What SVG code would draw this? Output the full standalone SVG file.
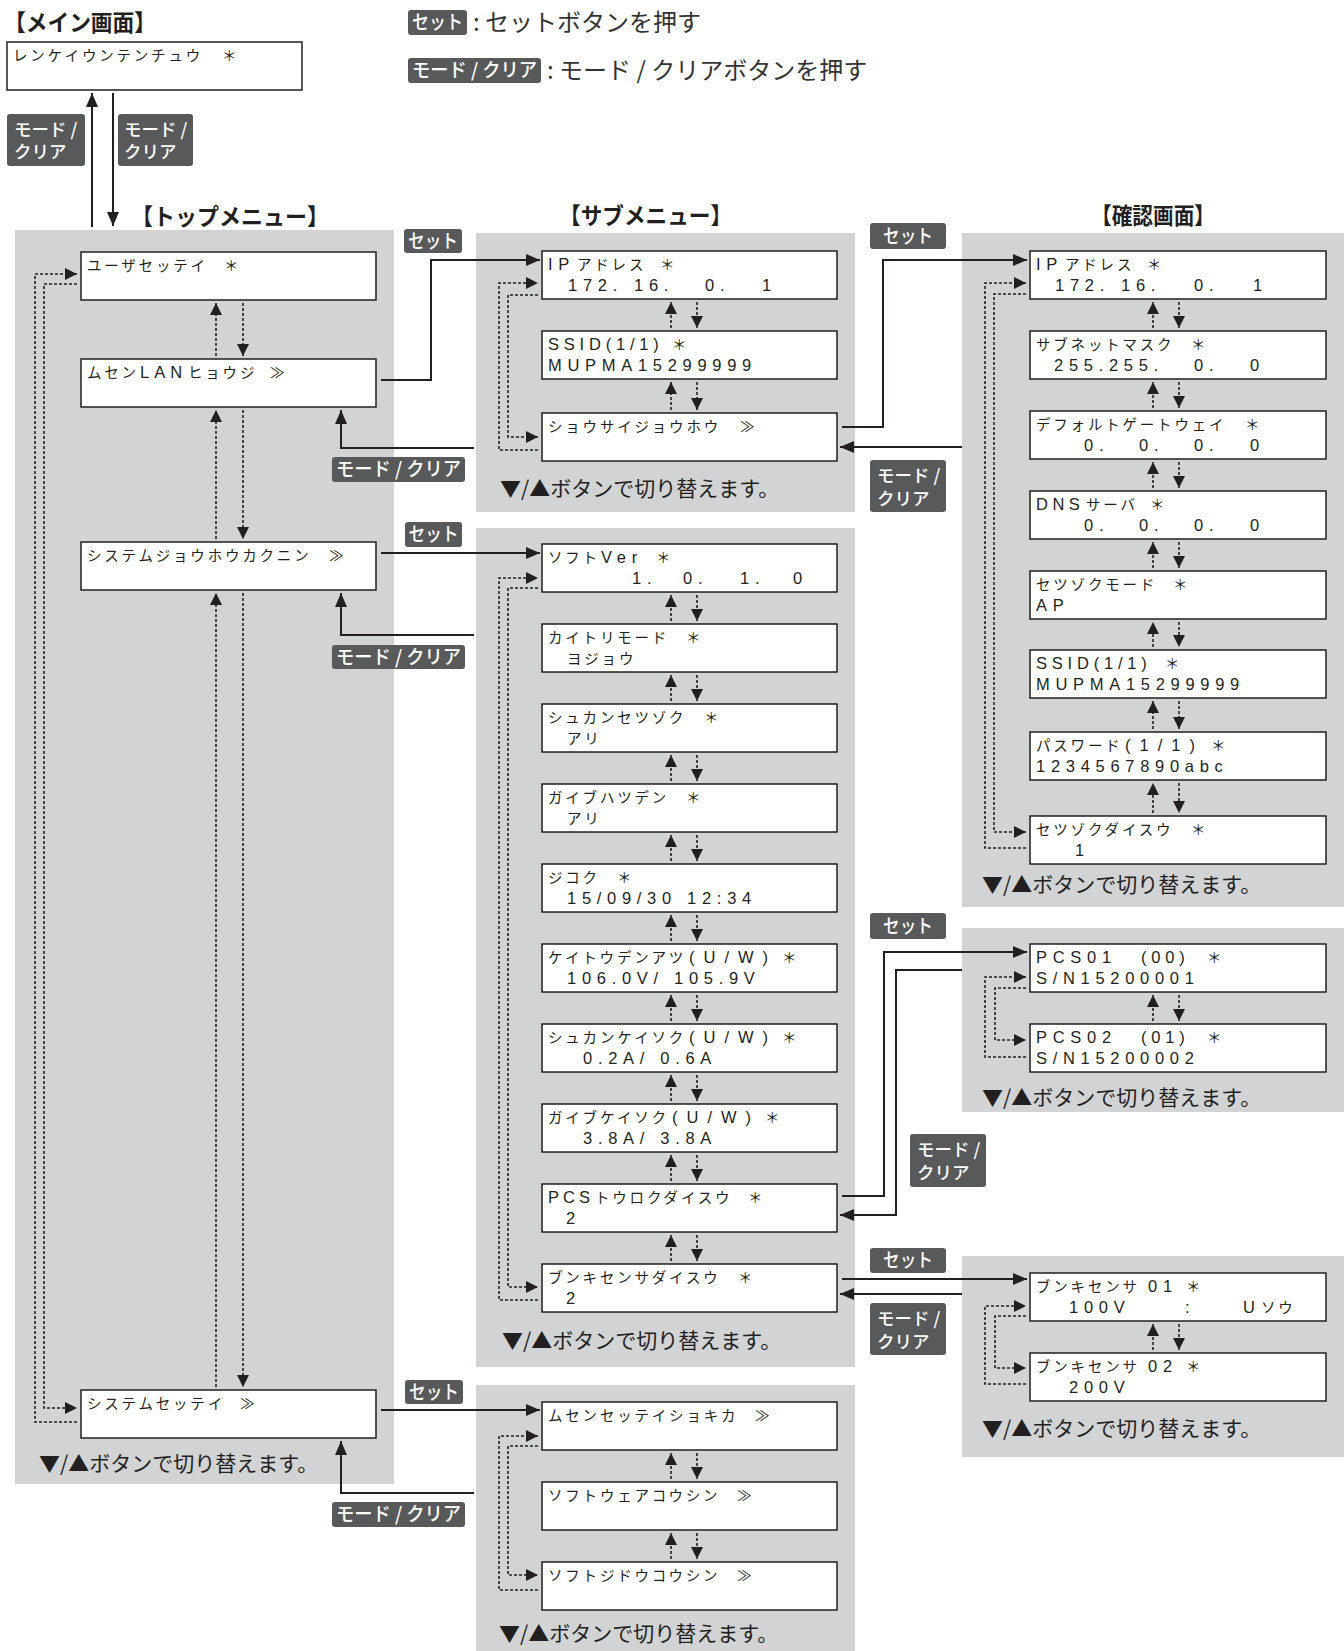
<svg xmlns="http://www.w3.org/2000/svg" width="1344" height="1651" viewBox="0 0 1344 1651">
<defs>
<style>
.pn{fill:#d1d3d4}
.bx{fill:#fff;stroke:#231f20;stroke-width:1.5}
.k{font-family:"Noto Sans CJK JP",sans-serif;font-size:14.5px;letter-spacing:2.8px;fill:#231f20}
.a{font-family:"Liberation Sans","Noto Sans CJK JP",sans-serif;font-size:16.5px;letter-spacing:5.7px;fill:#231f20}
.aw{font-family:"Liberation Sans","Noto Sans CJK JP",sans-serif;font-size:16.5px;letter-spacing:9px;fill:#231f20}
.ttl{font-family:"Noto Sans CJK JP",sans-serif;font-size:23px;font-weight:700;fill:#231f20}
.ft{font-family:"Noto Sans CJK JP",sans-serif;font-size:21px;fill:#231f20}
.lg{font-family:"Noto Sans CJK JP",sans-serif;font-size:24px;fill:#333}
.lb{fill:#58595b}
.lt{font-family:"Noto Sans CJK JP",sans-serif;font-size:19px;font-weight:500;fill:#fff}
.l2{font-family:"Noto Sans CJK JP",sans-serif;font-size:17.5px;font-weight:500;fill:#fff}
.ln{fill:none;stroke:#231f20;stroke-width:2}
.dl{fill:none;stroke:#231f20;stroke-width:1.6;stroke-dasharray:3 2}
</style>
<marker id="ah" viewBox="0 0 14 12" refX="14" refY="6" markerWidth="14" markerHeight="12" markerUnits="userSpaceOnUse" orient="auto"><path d="M0,0L14,6L0,12z" fill="#231f20"/></marker>
<marker id="sa" viewBox="0 0 12 12" refX="12" refY="6" markerWidth="12" markerHeight="12" markerUnits="userSpaceOnUse" orient="auto"><path d="M0,0L12,6L0,12z" fill="#231f20"/></marker>
</defs>
<rect width="1344" height="1651" fill="#fff"/>

<g id="panels">
<rect class="pn" x="15" y="230" width="379" height="1254"/>
<rect class="pn" x="476" y="233" width="379" height="279"/>
<rect class="pn" x="476" y="528" width="379" height="839"/>
<rect class="pn" x="476" y="1385" width="379" height="266"/>
<rect class="pn" x="962" y="233" width="382" height="674"/>
<rect class="pn" x="962" y="928" width="382" height="184"/>
<rect class="pn" x="962" y="1256" width="382" height="201"/>
</g>

<g id="titles">
<text class="ttl" x="4" y="31" textLength="152" lengthAdjust="spacingAndGlyphs">【メイン画面】</text>
<text class="ttl" x="131" y="225" textLength="198" lengthAdjust="spacingAndGlyphs">【トップメニュー】</text>
<text class="ttl" x="559" y="224" textLength="173" lengthAdjust="spacingAndGlyphs">【サブメニュー】</text>
<text class="ttl" x="1091" y="224" textLength="124" lengthAdjust="spacingAndGlyphs">【確認画面】</text>
<text class="ft" x="39" y="1471">▼/▲ボタンで切り替えます。</text>
<text class="ft" x="500" y="496">▼/▲ボタンで切り替えます。</text>
<text class="ft" x="502" y="1348">▼/▲ボタンで切り替えます。</text>
<text class="ft" x="499" y="1641">▼/▲ボタンで切り替えます。</text>
<text class="ft" x="982" y="892">▼/▲ボタンで切り替えます。</text>
<text class="ft" x="982" y="1105">▼/▲ボタンで切り替えます。</text>
<text class="ft" x="982" y="1436">▼/▲ボタンで切り替えます。</text>
</g>

<g id="legend">
<rect class="lb" x="408" y="10" width="59" height="25" rx="3"/>
<text class="lt" x="437.5" y="29" text-anchor="middle" textLength="51" lengthAdjust="spacingAndGlyphs">セット</text>
<text class="lg" x="473" y="31">: セットボタンを押す</text>
<rect class="lb" x="408" y="58" width="133" height="25" rx="3"/>
<text class="lt" x="474.5" y="77" text-anchor="middle" textLength="125" lengthAdjust="spacingAndGlyphs">モード / クリア</text>
<text class="lg" x="547" y="79">: モード / クリアボタンを押す</text>
</g>

<g id="connectors">
<path class="ln" d="M92,227V93" marker-end="url(#ah)"/>
<path class="ln" d="M113,93V226" marker-end="url(#ah)"/>
<path class="ln" d="M381,380H431V260H540" marker-end="url(#ah)"/>
<path class="ln" d="M474,448H341V410" marker-end="url(#ah)"/>
<path class="ln" d="M381,553H540" marker-end="url(#ah)"/>
<path class="ln" d="M474,635H341V593" marker-end="url(#ah)"/>
<path class="ln" d="M842,427H883V260H1027" marker-end="url(#ah)"/>
<path class="ln" d="M962,447H840" marker-end="url(#ah)"/>
<path class="ln" d="M842,1196H884V952H1027" marker-end="url(#ah)"/>
<path class="ln" d="M962,970H896V1215H840" marker-end="url(#ah)"/>
<path class="ln" d="M842,1279H1027" marker-end="url(#ah)"/>
<path class="ln" d="M962,1294H840" marker-end="url(#ah)"/>
<path class="ln" d="M381,1410H540" marker-end="url(#ah)"/>
<path class="ln" d="M474,1493H341V1441" marker-end="url(#ah)"/>
<!-- loops -->
<path class="dl" d="M77,1422H35V274H77" marker-end="url(#sa)"/>
<path class="dl" d="M77,284H44V1408H77" marker-end="url(#sa)"/>
<path class="dl" d="M538,450H499V283H538" marker-end="url(#sa)"/>
<path class="dl" d="M538,295H508V437H538" marker-end="url(#sa)"/>
<path class="dl" d="M538,1300H499V578H538" marker-end="url(#sa)"/>
<path class="dl" d="M538,588H508V1287H538" marker-end="url(#sa)"/>
<path class="dl" d="M538,1590H499V1436H538" marker-end="url(#sa)"/>
<path class="dl" d="M538,1446H508V1575H538" marker-end="url(#sa)"/>
<path class="dl" d="M1026,848H985V283H1026" marker-end="url(#sa)"/>
<path class="dl" d="M1026,294H994V832H1026" marker-end="url(#sa)"/>
<path class="dl" d="M1026,1057H985V977H1026" marker-end="url(#sa)"/>
<path class="dl" d="M1026,988H995V1040H1026" marker-end="url(#sa)"/>
<path class="dl" d="M1026,1384H985V1306H1026" marker-end="url(#sa)"/>
<path class="dl" d="M1026,1316H995V1368H1026" marker-end="url(#sa)"/>
<!-- up/down between boxes: top menu -->
<path class="dl" d="M216,356V303" marker-end="url(#sa)"/><path class="dl" d="M243,303V356" marker-end="url(#sa)"/>
<path class="dl" d="M216,539V410" marker-end="url(#sa)"/><path class="dl" d="M243,410V539" marker-end="url(#sa)"/>
<path class="dl" d="M216,1387V593" marker-end="url(#sa)"/><path class="dl" d="M243,593V1387" marker-end="url(#sa)"/>
<!-- sub1 -->
<path class="dl" d="M671,328V302" marker-end="url(#sa)"/><path class="dl" d="M697,302V328" marker-end="url(#sa)"/>
<path class="dl" d="M671,410V382" marker-end="url(#sa)"/><path class="dl" d="M697,382V410" marker-end="url(#sa)"/>
<!-- sub2 -->
<path class="dl" d="M671,621V595" marker-end="url(#sa)"/><path class="dl" d="M697,595V621" marker-end="url(#sa)"/>
<path class="dl" d="M671,701V675" marker-end="url(#sa)"/><path class="dl" d="M697,675V701" marker-end="url(#sa)"/>
<path class="dl" d="M671,781V755" marker-end="url(#sa)"/><path class="dl" d="M697,755V781" marker-end="url(#sa)"/>
<path class="dl" d="M671,861V835" marker-end="url(#sa)"/><path class="dl" d="M697,835V861" marker-end="url(#sa)"/>
<path class="dl" d="M671,941V915" marker-end="url(#sa)"/><path class="dl" d="M697,915V941" marker-end="url(#sa)"/>
<path class="dl" d="M671,1021V995" marker-end="url(#sa)"/><path class="dl" d="M697,995V1021" marker-end="url(#sa)"/>
<path class="dl" d="M671,1101V1075" marker-end="url(#sa)"/><path class="dl" d="M697,1075V1101" marker-end="url(#sa)"/>
<path class="dl" d="M671,1181V1155" marker-end="url(#sa)"/><path class="dl" d="M697,1155V1181" marker-end="url(#sa)"/>
<path class="dl" d="M671,1261V1235" marker-end="url(#sa)"/><path class="dl" d="M697,1235V1261" marker-end="url(#sa)"/>
<!-- sub3 -->
<path class="dl" d="M671,1479V1453" marker-end="url(#sa)"/><path class="dl" d="M697,1453V1479" marker-end="url(#sa)"/>
<path class="dl" d="M671,1559V1533" marker-end="url(#sa)"/><path class="dl" d="M697,1533V1559" marker-end="url(#sa)"/>
<!-- conf1 -->
<path class="dl" d="M1153,328V302" marker-end="url(#sa)"/><path class="dl" d="M1179,302V328" marker-end="url(#sa)"/>
<path class="dl" d="M1153,408V382" marker-end="url(#sa)"/><path class="dl" d="M1179,382V408" marker-end="url(#sa)"/>
<path class="dl" d="M1153,488V462" marker-end="url(#sa)"/><path class="dl" d="M1179,462V488" marker-end="url(#sa)"/>
<path class="dl" d="M1153,568V542" marker-end="url(#sa)"/><path class="dl" d="M1179,542V568" marker-end="url(#sa)"/>
<path class="dl" d="M1153,647V622" marker-end="url(#sa)"/><path class="dl" d="M1179,622V647" marker-end="url(#sa)"/>
<path class="dl" d="M1153,729V701" marker-end="url(#sa)"/><path class="dl" d="M1179,701V729" marker-end="url(#sa)"/>
<path class="dl" d="M1153,813V783" marker-end="url(#sa)"/><path class="dl" d="M1179,783V813" marker-end="url(#sa)"/>
<!-- conf2, conf3 -->
<path class="dl" d="M1153,1021V995" marker-end="url(#sa)"/><path class="dl" d="M1179,995V1021" marker-end="url(#sa)"/>
<path class="dl" d="M1153,1350V1324" marker-end="url(#sa)"/><path class="dl" d="M1179,1324V1350" marker-end="url(#sa)"/>
</g>

<g id="connector-labels">
<rect class="lb" x="7" y="114" width="78" height="52" rx="3"/>
<text class="l2"><tspan x="14" y="136">モード /</tspan><tspan x="14" y="158">クリア</tspan></text>
<rect class="lb" x="118" y="114" width="75" height="52" rx="3"/>
<text class="l2"><tspan x="124" y="136">モード /</tspan><tspan x="124" y="158">クリア</tspan></text>

<rect class="lb" x="404" y="229" width="58" height="24" rx="3"/>
<text class="lt" x="433" y="248" text-anchor="middle" textLength="50" lengthAdjust="spacingAndGlyphs">セット</text>
<rect class="lb" x="332" y="457" width="133" height="25" rx="3"/>
<text class="lt" x="398.5" y="476" text-anchor="middle" textLength="125" lengthAdjust="spacingAndGlyphs">モード / クリア</text>
<rect class="lb" x="405" y="522" width="57" height="25" rx="3"/>
<text class="lt" x="433.5" y="541" text-anchor="middle" textLength="50" lengthAdjust="spacingAndGlyphs">セット</text>
<rect class="lb" x="332" y="645" width="133" height="24" rx="3"/>
<text class="lt" x="398.5" y="664" text-anchor="middle" textLength="125" lengthAdjust="spacingAndGlyphs">モード / クリア</text>
<rect class="lb" x="405" y="1380" width="58" height="24" rx="3"/>
<text class="lt" x="434" y="1399" text-anchor="middle" textLength="50" lengthAdjust="spacingAndGlyphs">セット</text>
<rect class="lb" x="332" y="1502" width="133" height="25" rx="3"/>
<text class="lt" x="398.5" y="1521" text-anchor="middle" textLength="125" lengthAdjust="spacingAndGlyphs">モード / クリア</text>

<rect class="lb" x="870" y="223" width="76" height="26" rx="3"/>
<text class="lt" x="908" y="243" text-anchor="middle" textLength="50" lengthAdjust="spacingAndGlyphs">セット</text>
<rect class="lb" x="870" y="460" width="76" height="52" rx="3"/>
<text class="l2"><tspan x="877" y="482">モード /</tspan><tspan x="877" y="505">クリア</tspan></text>
<rect class="lb" x="870" y="913" width="76" height="26" rx="3"/>
<text class="lt" x="908" y="933" text-anchor="middle" textLength="50" lengthAdjust="spacingAndGlyphs">セット</text>
<rect class="lb" x="910" y="1134" width="76" height="53" rx="3"/>
<text class="l2"><tspan x="917" y="1156">モード /</tspan><tspan x="917" y="1179">クリア</tspan></text>
<rect class="lb" x="870" y="1248" width="76" height="25" rx="3"/>
<text class="lt" x="908" y="1267" text-anchor="middle" textLength="50" lengthAdjust="spacingAndGlyphs">セット</text>
<rect class="lb" x="870" y="1303" width="76" height="52" rx="3"/>
<text class="l2"><tspan x="877" y="1325">モード /</tspan><tspan x="877" y="1348">クリア</tspan></text>
</g>

<g id="n-main"><rect class="bx" x="7" y="42" width="295" height="48"/>
<text y="61"><tspan class="k" x="13">レンケイウンテンチュウ </tspan><tspan class="k" x="222">＊</tspan></text></g>

<g id="n-user"><rect class="bx" x="81" y="252" width="295" height="48"/>
<text y="271"><tspan class="k" x="87">ユーザセッテイ </tspan><tspan class="k" x="224">＊</tspan></text></g>
<g id="n-musen"><rect class="bx" x="81" y="359" width="295" height="48"/>
<text y="378"><tspan class="k" x="87">ムセン</tspan><tspan class="a" x="140" style="letter-spacing:5px">LAN</tspan><tspan class="k" x="188">ヒョウジ </tspan><tspan class="k" x="270">≫</tspan></text></g>
<g id="n-sysinfo"><rect class="bx" x="81" y="542" width="295" height="48"/>
<text y="561"><tspan class="k" x="87">システムジョウホウカクニン </tspan><tspan class="k" x="329">≫</tspan></text></g>
<g id="n-sysset"><rect class="bx" x="81" y="1390" width="295" height="48"/>
<text y="1409"><tspan class="k" x="87">システムセッテイ </tspan><tspan class="k" x="240">≫</tspan></text></g>

<g id="s-ip"><rect class="bx" x="542" y="251" width="295" height="48"/>
<text y="270"><tspan class="a" x="548">IP</tspan><tspan class="k" x="577">アドレス </tspan><tspan class="k" x="660">＊</tspan></text>
<text y="291"><tspan class="a" x="568">172.</tspan><tspan class="a" x="634">16.</tspan><tspan class="a" x="705">0.</tspan><tspan class="a" x="762">1</tspan></text></g>
<g id="s-ssid"><rect class="bx" x="542" y="331" width="295" height="48"/>
<text y="350"><tspan class="a" x="548" style="letter-spacing:4.8px">SSID(1/1)</tspan><tspan class="k" x="672">＊</tspan></text>
<text y="371"><tspan class="a" x="548">MUPMA15299999</tspan></text></g>
<g id="s-shosai"><rect class="bx" x="542" y="413" width="295" height="48"/>
<text y="432"><tspan class="k" x="548">ショウサイジョウホウ </tspan><tspan class="k" x="740">≫</tspan></text></g>

<g id="s-softver"><rect class="bx" x="542" y="544" width="295" height="48"/>
<text y="563"><tspan class="k" x="548">ソフト</tspan><tspan class="a" x="601">Ver</tspan><tspan class="k" x="656">＊</tspan></text>
<text y="584"><tspan class="a" x="632">1.</tspan><tspan class="a" x="683">0.</tspan><tspan class="a" x="740">1.</tspan><tspan class="a" x="793">0</tspan></text></g>
<g id="s-kaitori"><rect class="bx" x="542" y="624" width="295" height="48"/>
<text y="643"><tspan class="k" x="548">カイトリモード </tspan><tspan class="k" x="686">＊</tspan></text>
<text y="664"><tspan class="k" x="567">ヨジョウ</tspan></text></g>
<g id="s-shukan"><rect class="bx" x="542" y="704" width="295" height="48"/>
<text y="723"><tspan class="k" x="548">シュカンセツゾク </tspan><tspan class="k" x="704">＊</tspan></text>
<text y="744"><tspan class="k" x="567">アリ</tspan></text></g>
<g id="s-gaibu"><rect class="bx" x="542" y="784" width="295" height="48"/>
<text y="803"><tspan class="k" x="548">ガイブハツデン </tspan><tspan class="k" x="686">＊</tspan></text>
<text y="824"><tspan class="k" x="567">アリ</tspan></text></g>
<g id="s-jikoku"><rect class="bx" x="542" y="864" width="295" height="48"/>
<text y="883"><tspan class="k" x="548">ジコク </tspan><tspan class="k" x="617">＊</tspan></text>
<text y="904"><tspan class="a" x="567">15/09/30 12:34</tspan></text></g>
<g id="s-keitou"><rect class="bx" x="542" y="944" width="295" height="48"/>
<text y="963"><tspan class="k" x="548">ケイトウデンアツ</tspan><tspan class="aw" x="689">(U/W)</tspan><tspan class="k" x="782">＊</tspan></text>
<text y="984"><tspan class="a" x="567">106.0V/ 105.9V</tspan></text></g>
<g id="s-shukankei"><rect class="bx" x="542" y="1024" width="295" height="48"/>
<text y="1043"><tspan class="k" x="548">シュカンケイソク</tspan><tspan class="aw" x="689">(U/W)</tspan><tspan class="k" x="782">＊</tspan></text>
<text y="1064"><tspan class="a" x="583">0.2A/ 0.6A</tspan></text></g>
<g id="s-gaibukei"><rect class="bx" x="542" y="1104" width="295" height="48"/>
<text y="1123"><tspan class="k" x="548">ガイブケイソク</tspan><tspan class="aw" x="672">(U/W)</tspan><tspan class="k" x="765">＊</tspan></text>
<text y="1144"><tspan class="a" x="583">3.8A/ 3.8A</tspan></text></g>
<g id="s-pcs"><rect class="bx" x="542" y="1184" width="295" height="48"/>
<text y="1203"><tspan class="a" x="548" style="letter-spacing:4px">PCS</tspan><tspan class="k" x="595">トウロクダイスウ </tspan><tspan class="k" x="748">＊</tspan></text>
<text y="1224"><tspan class="a" x="566">2</tspan></text></g>
<g id="s-bunki"><rect class="bx" x="542" y="1264" width="295" height="48"/>
<text y="1283"><tspan class="k" x="548">ブンキセンサダイスウ </tspan><tspan class="k" x="738">＊</tspan></text>
<text y="1304"><tspan class="a" x="566">2</tspan></text></g>

<g id="s-musenreset"><rect class="bx" x="542" y="1402" width="295" height="48"/>
<text y="1421"><tspan class="k" x="548">ムセンセッテイショキカ </tspan><tspan class="k" x="755">≫</tspan></text></g>
<g id="s-swupdate"><rect class="bx" x="542" y="1482" width="295" height="48"/>
<text y="1501"><tspan class="k" x="548">ソフトウェアコウシン </tspan><tspan class="k" x="737">≫</tspan></text></g>
<g id="s-swauto"><rect class="bx" x="542" y="1562" width="295" height="48"/>
<text y="1581"><tspan class="k" x="548">ソフトジドウコウシン </tspan><tspan class="k" x="737">≫</tspan></text></g>

<g id="c-ip"><rect class="bx" x="1030" y="251" width="296" height="48"/>
<text y="270"><tspan class="a" x="1036">IP</tspan><tspan class="k" x="1065">アドレス </tspan><tspan class="k" x="1147">＊</tspan></text>
<text y="291"><tspan class="a" x="1055">172.</tspan><tspan class="a" x="1121">16.</tspan><tspan class="a" x="1194">0.</tspan><tspan class="a" x="1253">1</tspan></text></g>
<g id="c-subnet"><rect class="bx" x="1030" y="331" width="296" height="48"/>
<text y="350"><tspan class="k" x="1036">サブネットマスク </tspan><tspan class="k" x="1191">＊</tspan></text>
<text y="371"><tspan class="a" x="1054">255.255.</tspan><tspan class="a" x="1194">0.</tspan><tspan class="a" x="1250">0</tspan></text></g>
<g id="c-gw"><rect class="bx" x="1030" y="411" width="296" height="48"/>
<text y="430"><tspan class="k" x="1036">デフォルトゲートウェイ </tspan><tspan class="k" x="1245">＊</tspan></text>
<text y="451"><tspan class="a" x="1084">0.</tspan><tspan class="a" x="1139">0.</tspan><tspan class="a" x="1194">0.</tspan><tspan class="a" x="1250">0</tspan></text></g>
<g id="c-dns"><rect class="bx" x="1030" y="491" width="296" height="48"/>
<text y="510"><tspan class="a" x="1036" style="letter-spacing:4.5px">DNS</tspan><tspan class="k" x="1086">サーバ </tspan><tspan class="k" x="1150">＊</tspan></text>
<text y="531"><tspan class="a" x="1084">0.</tspan><tspan class="a" x="1139">0.</tspan><tspan class="a" x="1194">0.</tspan><tspan class="a" x="1250">0</tspan></text></g>
<g id="c-mode"><rect class="bx" x="1030" y="571" width="296" height="48"/>
<text y="590"><tspan class="k" x="1036">セツゾクモード </tspan><tspan class="k" x="1173">＊</tspan></text>
<text y="611"><tspan class="a" x="1036">AP</tspan></text></g>
<g id="c-ssid"><rect class="bx" x="1030" y="650" width="296" height="48"/>
<text y="669"><tspan class="a" x="1036" style="letter-spacing:4.8px">SSID(1/1)</tspan><tspan class="k" x="1165">＊</tspan></text>
<text y="690"><tspan class="a" x="1036">MUPMA15299999</tspan></text></g>
<g id="c-pw"><rect class="bx" x="1030" y="732" width="296" height="48"/>
<text y="751"><tspan class="k" x="1036">パスワード</tspan><tspan class="aw" x="1125">(1/1)</tspan><tspan class="k" x="1211">＊</tspan></text>
<text y="772"><tspan class="a" x="1036">1234567890abc</tspan></text></g>
<g id="c-daisu"><rect class="bx" x="1030" y="816" width="296" height="48"/>
<text y="835"><tspan class="k" x="1036">セツゾクダイスウ </tspan><tspan class="k" x="1191">＊</tspan></text>
<text y="856"><tspan class="a" x="1075">1</tspan></text></g>

<g id="c-pcs01"><rect class="bx" x="1030" y="944" width="296" height="48"/>
<text y="963"><tspan class="a" x="1036">PCS01</tspan><tspan class="a" x="1141" style="letter-spacing:4.8px">(00)</tspan><tspan class="k" x="1207">＊</tspan></text>
<text y="984"><tspan class="a" x="1036">S/N15200001</tspan></text></g>
<g id="c-pcs02"><rect class="bx" x="1030" y="1024" width="296" height="48"/>
<text y="1043"><tspan class="a" x="1036">PCS02</tspan><tspan class="a" x="1141" style="letter-spacing:4.8px">(01)</tspan><tspan class="k" x="1207">＊</tspan></text>
<text y="1064"><tspan class="a" x="1036">S/N15200002</tspan></text></g>

<g id="c-bk01"><rect class="bx" x="1030" y="1273" width="296" height="48"/>
<text y="1292"><tspan class="k" x="1036">ブンキセンサ</tspan><tspan class="a" x="1148">01</tspan><tspan class="k" x="1186">＊</tspan></text>
<text y="1313"><tspan class="a" x="1069">100V</tspan><tspan class="a" x="1185">:</tspan><tspan class="a" x="1243">U</tspan><tspan class="k" x="1261">ソウ</tspan></text></g>
<g id="c-bk02"><rect class="bx" x="1030" y="1353" width="296" height="48"/>
<text y="1372"><tspan class="k" x="1036">ブンキセンサ</tspan><tspan class="a" x="1148">02</tspan><tspan class="k" x="1186">＊</tspan></text>
<text y="1393"><tspan class="a" x="1069">200V</tspan></text></g>
</svg>
